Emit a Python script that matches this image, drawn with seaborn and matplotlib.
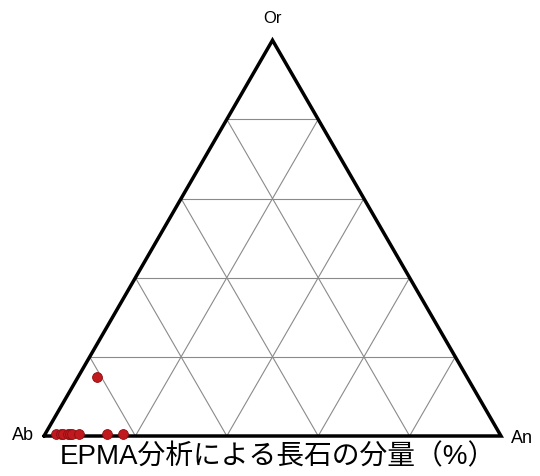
import numpy as np
import pandas as pd
import seaborn as sns
import matplotlib.pyplot as plt

sns.set_style("white")
plt.rcParams['font.family'] = ['Liberation Sans', 'Noto Sans CJK JP', 'DejaVu Sans']
plt.rcParams['text.color'] = 'black'

# feldspar composition (%), Ab = 100 - An - Or
an_pct = [2.5, 3.5, 4.0, 5.0, 5.5, 6.0, 7.5, 13.5, 17.0, 4.2]
or_pct = [0.4, 0.4, 0.4, 0.4, 0.4, 0.4, 0.4, 0.4, 0.4, 14.9]
corner_labels = ["Ab", "An", "Or"]
title = "EPMA分析による長石の分量（%）"

h = np.sqrt(3) / 2


def tern(an, orr):
    an = np.asarray(an) / 100.0
    orr = np.asarray(orr) / 100.0
    return an + orr / 2, orr * h


px, py = tern(an_pct, or_pct)
df = pd.DataFrame({"x": px, "y": py})

fig = plt.figure(figsize=(5.4, 4.76), dpi=100)
ax = fig.add_axes([0, 0, 1, 1])
L = 457.0
ax.set_xlim(-44 / L, (540 - 44) / L)
ax.set_ylim(-40 / L, (476 - 40) / L)
ax.axis("off")

# grid lines every 20 %
for k in range(1, 5):
    t = k * 20
    # constant Or
    x0, y0 = tern(0, t)
    x1, y1 = tern(100 - t, t)
    ax.plot([x0, x1], [y0, y1], color="#8a8a8a", lw=0.8, zorder=1)
    # constant An
    x0, y0 = tern(t, 0)
    x1, y1 = tern(t, 100 - t)
    ax.plot([x0, x1], [y0, y1], color="#8a8a8a", lw=0.8, zorder=1)
    # constant Ab
    x0, y0 = tern(100 - t, 0)
    x1, y1 = tern(0, 100 - t)
    ax.plot([x0, x1], [y0, y1], color="#8a8a8a", lw=0.8, zorder=1)

ax.plot([0, 1, 0.5, 0], [0, 0, h, 0], color="black", lw=2.5,
        solid_joinstyle="miter", zorder=2)

sns.scatterplot(data=df, x="x", y="y", ax=ax, color="#c0191e", s=50,
                edgecolor="#8b0f12", linewidth=0.6, zorder=3)

ax.text(-0.022, 0, corner_labels[0], ha="right", va="center", fontsize=13)
ax.text(1.022, -0.005, corner_labels[1], ha="left", va="center", fontsize=13)
ax.text(0.5, h + 0.048, corner_labels[2], ha="center", va="center", fontsize=12)
fig.text(0.515, 1 - 457 / 476, title, ha="center", va="center", fontsize=20)

fig.savefig("out.png", dpi=100)
